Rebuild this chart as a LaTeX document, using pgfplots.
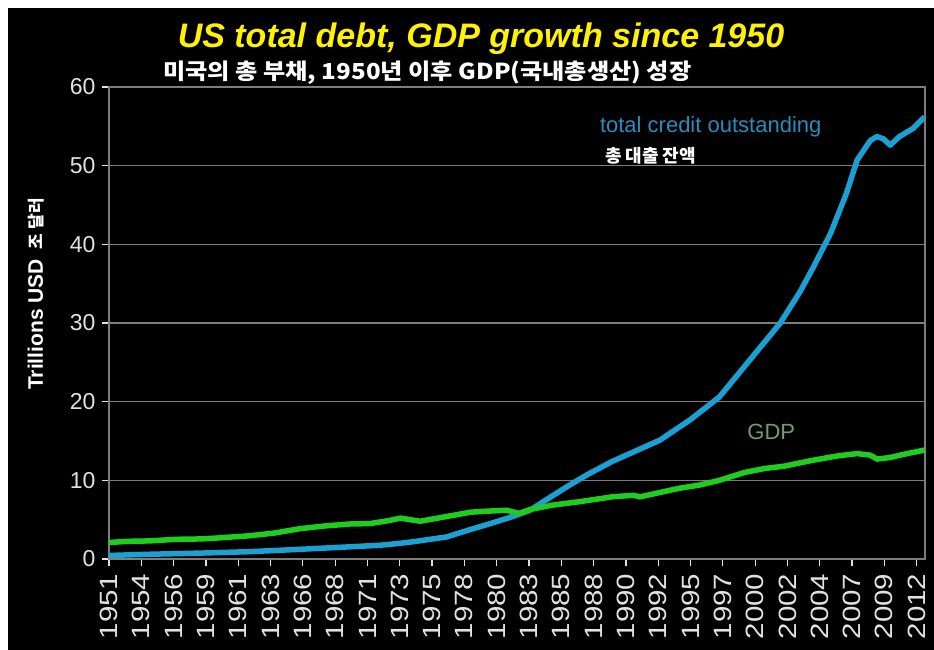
\documentclass[border=0pt]{standalone}
\usepackage{pgfplots}
\pgfplotsset{compat=1.18}
\usepackage{fontspec}
\setmainfont{Liberation Sans}
\newfontfamily\cjk{Noto Sans CJK KR}
\definecolor{credit}{RGB}{26,160,210}
\definecolor{gdp}{RGB}{30,205,30}
\definecolor{credittxt}{RGB}{40,140,190}
\definecolor{gdptxt}{RGB}{110,160,110}
\definecolor{gridc}{RGB}{125,125,125}
\definecolor{ticktxt}{RGB}{225,225,225}
\begin{document}
\begin{tikzpicture}[x=1pt,y=1pt]
\useasboundingbox (0,0) rectangle (934,650);
\fill[white] (0,0) rectangle (934,650);
\fill[black] (8,0) rectangle (934,642);
\node[text=yellow,font=\fontsize{34}{37}\selectfont\bfseries\itshape] at (481,611) {US total debt, GDP growth since 1950};
\node[text=white,anchor=west,inner sep=0pt] at (163,577) {\scalebox{1.1}[1]{\fontsize{22}{24}\selectfont\cjk\bfseries 미국의 총 부채, 1950년 이후 GDP(국내총생산) 성장}};
\node[rotate=90,text=white,anchor=center] at (36,356) {{\fontsize{21}{23}\selectfont\bfseries Trillions USD}\hspace{10pt}{\fontsize{17}{19}\selectfont\cjk\bfseries 조 달러}};
\begin{axis}[
  at={(109pt,91pt)}, anchor=south west,
  scale only axis, width=816pt, height=472pt,
  xmin=1951, xmax=2012.63, ymin=0, ymax=60,
  axis background/.style={fill=black},
  axis line style={draw=gridc, line width=1.2pt},
  ytick={0,10,20,30,40,50,60},
  ymajorgrids, grid style={draw=gridc, line width=1.2pt},
  xtick={1951,1953.44,1955.88,1958.32,1960.76,1963.2,1965.64,1968.08,1970.52,1972.96,1975.4,1977.84,1980.28,1982.72,1985.16,1987.6,1990.04,1992.48,1994.92,1997.36,1999.8,2002.24,2004.68,2007.12,2009.56,2012.0},
  xticklabels={1951,1954,1956,1959,1961,1963,1966,1968,1971,1973,1975,1978,1980,1983,1985,1988,1990,1992,1995,1997,2000,2002,2004,2007,2009,2012},
  tick align=outside, major tick length=7pt,
  tick style={draw=ticktxt, line width=1.2pt},
  xtick pos=bottom, ytick pos=left,
  /pgf/number format/assume math mode=true,
  yticklabel style={text=ticktxt, font=\fontsize{23}{25}\selectfont, xshift=-3pt},
  xticklabel style={text=ticktxt, font=\fontsize{25}{27}\selectfont, rotate=90, xscale=1.18, anchor=east, xshift=-3pt},
]
\addplot[credit, line width=5.5pt, line join=round] coordinates {
(1951.0,0.45) (1954,0.6) (1957.9,0.75) (1961.6,0.93) (1965.4,1.23) (1969.2,1.55)
(1971.5,1.75) (1973,2.0) (1974,2.2) (1976.5,2.8) (1978,3.6) (1979.8,4.5)
(1981.5,5.4) (1982.8,6.2) (1984,7.5) (1985.6,9.2) (1987.1,10.7) (1989,12.4)
(1990.6,13.6) (1992.6,15.1) (1994.9,17.7) (1997.1,20.6) (1999.4,25.3) (2001.7,30.0)
(2003.2,34.0) (2004.2,37.1) (2005.5,41.4) (2006.7,46.5) (2007.5,50.7) (2008.5,53.2)
(2009,53.7) (2009.5,53.4) (2010,52.6) (2010.7,53.7) (2011.7,54.7) (2012.6,56.2)
};
\addplot[gdp, line width=5.5pt, line join=round] coordinates {
(1951,2.1) (1952.5,2.25) (1954.1,2.3) (1956,2.5) (1957.9,2.55) (1959,2.65)
(1961.6,2.95) (1963.5,3.3) (1965.4,3.85) (1967.3,4.2) (1969.2,4.45) (1970.7,4.5)
(1972.2,4.9) (1973,5.2) (1974.5,4.8) (1976.5,5.4) (1978.3,5.95) (1979.8,6.1)
(1981,6.2) (1982,5.8) (1982.8,6.3) (1984.5,6.85) (1986.6,7.3) (1989,7.9)
(1990.6,8.1) (1991.1,7.9) (1994.1,9.0) (1995.6,9.4) (1997.1,10.0) (1999,11.0)
(2000.5,11.5) (2002,11.8) (2004,12.5) (2006,13.1) (2007.5,13.4) (2008.5,13.2)
(2009,12.7) (2010,12.9) (2011,13.3) (2012.6,13.85)
};
\node[anchor=west, text=credittxt, font=\fontsize{22}{24}\selectfont, inner sep=0pt] at (axis cs:1988.07,55.0) {total credit outstanding};
\node[anchor=west, text=white, font=\fontsize{18}{20}\selectfont\cjk\bfseries, inner sep=0pt] at (axis cs:1988.45,51.2) {총 대출 잔액};
\node[anchor=west, text=gdptxt, font=\fontsize{22}{24}\selectfont, inner sep=0pt] at (axis cs:1999.2,16.1) {GDP};
\end{axis}
\end{tikzpicture}
\end{document}
